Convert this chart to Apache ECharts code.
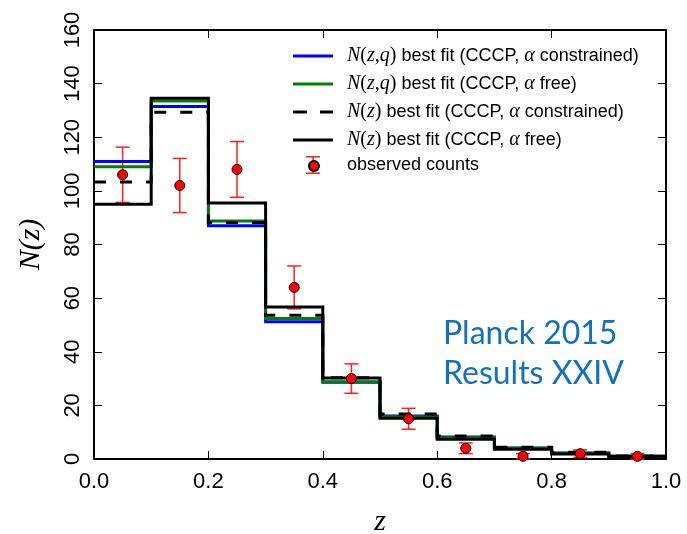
<!DOCTYPE html>
<html>
<head>
<meta charset="utf-8">
<script src="https://cdn.jsdelivr.net/npm/echarts@6.0.0/dist/echarts.min.js"></script>
<style>
  html, body { margin: 0; padding: 0; background: #fff; }
  #chart { width: 687px; height: 534px; }
</style>
</head>
<body>
<div id="chart"></div>
<script>
// Redshift bin edges and centres
const binEdges = [0.0, 0.1, 0.2, 0.3, 0.4, 0.5, 0.6, 0.7, 0.8, 0.9, 1.0];
const binCentres = [0.05, 0.15, 0.25, 0.35, 0.45, 0.55, 0.65, 0.75, 0.85, 0.95];

// Predicted counts per bin for each best fit
const nzqConstrained = [111.0, 131.5, 87.0, 51.2, 28.6, 16.0, 8.2, 4.1, 2.2, 1.0];
const nzqFree        = [109.0, 133.5, 88.8, 52.4, 28.8, 15.8, 7.9, 4.0, 2.1, 0.9];
const nzConstrained  = [103.3, 129.3, 88.2, 53.6, 30.3, 16.8, 8.6, 4.4, 2.5, 1.1];
const nzFree         = [95.0, 134.5, 95.5, 56.7, 30.2, 15.2, 7.4, 3.6, 1.9, 1.0];

// Observed cluster counts and their 1-sigma errors
const observedCounts = [106, 102, 108, 64, 30, 15, 4, 1, 2, 1];
const observedErrors = [10.3, 10.1, 10.4, 8.0, 5.5, 3.9, 2.0, 1.0, 1.4, 1.0];

// Axis ticks
const xTicks = { min: 0, max: 1, step: 0.2 };
const yTicks = { min: 0, max: 160, step: 20 };

const names = {
  nzqC: 'N(z,q) best fit (CCCP, α constrained)',
  nzqF: 'N(z,q) best fit (CCCP, α free)',
  nzC: 'N(z) best fit (CCCP, α constrained)',
  nzF: 'N(z) best fit (CCCP, α free)',
  obs: 'observed counts',
  obsPts: 'observed points'
};

// Histogram outline: each value held across its bin, last one carried to the right edge
function stepData(values) {
  const pts = values.map((v, i) => [binEdges[i], v]);
  pts.push([binEdges[binEdges.length - 1], values[values.length - 1]]);
  return pts;
}

const errorData = binCentres.map((z, i) => [z, observedCounts[i] - observedErrors[i], observedCounts[i] + observedErrors[i]]);
const pointData = binCentres.map((z, i) => [z, observedCounts[i]]);

const sans = 'Liberation Sans, Arial, Helvetica, sans-serif';
const serif = 'Liberation Serif, Times New Roman, serif';

function mathLabel(name) {
  return name
    .replace('N(z,q)', '{i|N}{p|(}{i|z}{p|,}{i|q}{p|)}')
    .replace('N(z)', '{i|N}{p|(}{i|z}{p|)}')
    .replace('α', '{i|α}');
}

const legendRich = {
  i: { fontFamily: serif, fontStyle: 'italic', fontSize: 20, color: '#000', lineHeight: 18 },
  p: { fontFamily: serif, fontSize: 20, color: '#000', lineHeight: 18 }
};

const frameLine = { show: true, onZero: false, lineStyle: { color: '#000', width: 2 } };
const innerTick = { show: true, inside: true, length: 8, lineStyle: { color: '#000', width: 1 } };

function xAxisDef(pos, showLabels) {
  return {
    type: 'value', position: pos, min: xTicks.min, max: xTicks.max, interval: xTicks.step,
    axisLine: frameLine, axisTick: innerTick, splitLine: { show: false },
    axisLabel: {
      show: showLabels, fontFamily: sans, fontSize: 22, color: '#000', margin: 12,
      formatter: v => v.toFixed(1)
    }
  };
}
function yAxisDef(pos, showLabels) {
  return {
    type: 'value', position: pos, min: yTicks.min, max: yTicks.max, interval: yTicks.step,
    axisLine: frameLine, axisTick: innerTick, splitLine: { show: false },
    axisLabel: { show: showLabels, fontFamily: sans, fontSize: 22, color: '#000', margin: 10, rotate: 90 }
  };
}

const xBottom = xAxisDef('bottom', true);
xBottom.name = 'z';
xBottom.nameLocation = 'middle';
xBottom.nameGap = 48;
xBottom.nameTextStyle = { fontFamily: serif, fontStyle: 'italic', fontSize: 30, color: '#000' };

const yLeft = yAxisDef('left', true);
yLeft.name = 'N(z)';
yLeft.nameLocation = 'middle';
yLeft.nameRotate = 90;
yLeft.nameGap = 48;
yLeft.nameTextStyle = { fontFamily: serif, fontStyle: 'italic', fontSize: 30, color: '#000' };

function stepSeries(name, values, color, type) {
  return {
    name, type: 'line', step: 'end', data: stepData(values),
    xAxisIndex: 0, yAxisIndex: 0,
    symbol: 'none', showSymbol: false, silent: true, animation: false,
    lineStyle: { color, width: 3, type: type || 'solid', cap: 'butt', join: 'miter' },
    itemStyle: { color, borderWidth: 0 }
  };
}

// Legend glyphs: a solid stroke, a two-dash stroke and an error bar
const solidIcon = 'path://M0,0H40V3H0Z';
const dashIcon = 'path://M0,0H14V3H0ZM27,0H40V3H27Z';
const errorBarIcon = 'path://M0,0H14V1.5H7.75V16.5H14V18H0V16.5H6.25V1.5H0Z';

const option = {
  backgroundColor: '#fff',
  animation: false,
  grid: { left: 94, right: 21, top: 30, bottom: 75, containLabel: false, outerBoundsMode: 'none' },
  xAxis: [xBottom, xAxisDef('top', false)],
  yAxis: [yLeft, yAxisDef('right', false)],
  legend: [
    {
      orient: 'vertical', left: 288, top: 41,
      itemWidth: 40, itemHeight: 3, itemGap: 8,
      selectedMode: false,
      itemStyle: { borderWidth: 0 },
      data: [
        { name: names.nzqC, icon: solidIcon },
        { name: names.nzqF, icon: solidIcon },
        { name: names.nzC, icon: dashIcon },
        { name: names.nzF, icon: solidIcon }
      ],
      formatter: mathLabel,
      textStyle: { fontFamily: sans, fontSize: 18, color: '#000', lineHeight: 18, padding: [0, 0, 0, 9], rich: legendRich }
    },
    {
      orient: 'vertical', left: 301, top: 151,
      itemWidth: 14, itemHeight: 18,
      selectedMode: false,
      itemStyle: { borderWidth: 0 },
      data: [{ name: names.obs, icon: errorBarIcon }],
      textStyle: { fontFamily: sans, fontSize: 18, color: '#000', lineHeight: 18, padding: [0, 0, 0, 22] }
    },
    {
      orient: 'vertical', left: 303, top: 155,
      itemWidth: 10, itemHeight: 10,
      selectedMode: false,
      data: [{ name: names.obsPts, icon: 'circle' }],
      formatter: () => '',
      textStyle: { fontSize: 1 }
    }
  ],
  series: [
    stepSeries(names.nzqC, nzqConstrained, '#0000ff'),
    stepSeries(names.nzqF, nzqFree, '#008000'),
    stepSeries(names.nzC, nzConstrained, '#000000', [12, 14]),
    stepSeries(names.nzF, nzFree, '#000000'),
    {
      name: names.obs, type: 'custom', data: errorData, z: 3,
      xAxisIndex: 0, yAxisIndex: 0,
      encode: { x: 0, y: [1, 2] },
      itemStyle: { color: '#ff2020' },
      renderItem: function (params, api) {
        const z = api.value(0);
        const lo = api.coord([z, api.value(1)]);
        const hi = api.coord([z, api.value(2)]);
        const cap = 7;
        const style = { stroke: '#ff2020', lineWidth: 1.5, fill: null };
        return {
          type: 'group',
          children: [
            { type: 'line', shape: { x1: lo[0], y1: lo[1], x2: hi[0], y2: hi[1] }, style },
            { type: 'line', shape: { x1: lo[0] - cap, y1: lo[1], x2: lo[0] + cap, y2: lo[1] }, style },
            { type: 'line', shape: { x1: hi[0] - cap, y1: hi[1], x2: hi[0] + cap, y2: hi[1] }, style }
          ]
        };
      }
    },
    {
      name: names.obsPts, type: 'scatter', data: pointData, z: 4,
      xAxisIndex: 0, yAxisIndex: 0,
      symbol: 'circle', symbolSize: 10,
      itemStyle: { color: '#ff0000', borderColor: '#000', borderWidth: 1, opacity: 1 }
    }
  ],
  graphic: [
    {
      type: 'text', left: 443, top: 318, silent: true,
      style: { text: 'Planck 2015', font: '32px Lato, "Open Sans", sans-serif', fill: '#1170c2' }
    },
    {
      type: 'text', left: 443, top: 358, silent: true,
      style: { text: 'Results XXIV', font: '32px Lato, "Open Sans", sans-serif', fill: '#1170c2' }
    }
  ]
};

const chart = echarts.init(document.getElementById('chart'), null, { renderer: 'canvas' });
chart.setOption(option);
</script>
</body>
</html>
